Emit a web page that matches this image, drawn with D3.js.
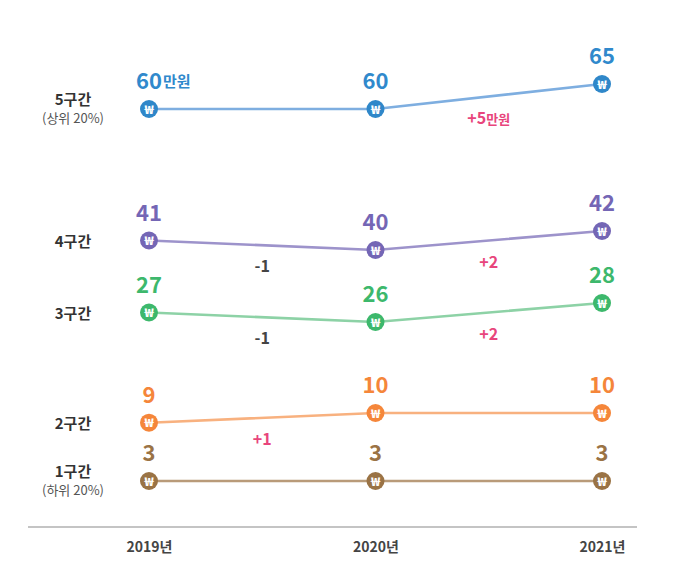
<!DOCTYPE html>
<html><head><meta charset="utf-8">
<script src="https://cdn.jsdelivr.net/npm/d3@7"></script>
<style>
body{margin:0;background:#fff;}
text{font-family:"Noto Sans CJK KR","Noto Sans",sans-serif;}
</style></head>
<body><svg id="c" width="673" height="586"></svg>
<script>
const years = ["2019년","2020년","2021년"];
const seriesNames = ["5구간","4구간","3구간","2구간","1구간"];
const seriesSub = ["(상위 20%)","","","","(하위 20%)"];
const v5 = [60,60,65];
const v4 = [41,40,42];
const v3 = [27,26,28];
const v2 = [9,10,10];
const v1 = [3,3,3];
const changes5 = ["","+5"];
const changes4 = ["-1","+2"];
const changes3 = ["-1","+2"];
const changes2 = ["+1",""];
const changes1 = ["",""];
const unit = "만원";
// broken value axis breakpoints
const yBreaks = [3,10,26,28,40,42,60,65];

const colors = [
 {dot:"#2f87c9",line:"#7eaee0",text:"#3089cc"},
 {dot:"#7466b5",line:"#9d93cb",text:"#7466b5"},
 {dot:"#3db86c",line:"#8dd2a6",text:"#3db86c"},
 {dot:"#f5863a",line:"#f8b17f",text:"#f5863a"},
 {dot:"#9a7345",line:"#b99b79",text:"#9a7345"}
];

const values = [v5,v4,v3,v2,v1];
const changes = [changes5,changes4,changes3,changes2,changes1];

const svg = d3.select("#c");
const x = d3.scalePoint().domain(years).range([149,602]);
const y = d3.scaleLinear().domain(yBreaks).range([481,413,322,303,250,231,109,84]);

// axis
const axisY = 527;
svg.append("line").attr("x1",28).attr("x2",637).attr("y1",axisY).attr("y2",axisY)
  .attr("stroke","#8a8a8a").attr("stroke-width",1.2);
const ax = svg.append("g").attr("transform",`translate(0,${axisY})`)
  .call(d3.axisBottom(x).tickSize(0).tickPadding(15));
ax.select(".domain").remove();
ax.selectAll("text").attr("font-size",14).attr("font-weight","bold").attr("fill","#444")
  .attr("font-family",'"Noto Sans CJK KR",sans-serif');

const line = d3.line().x((d,i)=>x(years[i])).y(d=>y(d));

values.forEach((vals,si)=>{
  const c = colors[si];
  const g = svg.append("g");
  g.append("path").datum(vals).attr("d",line).attr("fill","none")
    .attr("stroke",c.line).attr("stroke-width",2.6);
  // change labels
  changes[si].forEach((ch,i)=>{
    if(!ch) return;
    const mx = (x(years[i])+x(years[i+1]))/2;
    const my = (y(vals[i])+y(vals[i+1]))/2 + 27;
    const col = ch.startsWith("+") ? "#e8457c" : "#444";
    const t = g.append("text").attr("x",mx).attr("y",my).attr("text-anchor","middle")
      .attr("fill",col).attr("font-weight","bold").attr("font-size",16);
    t.append("tspan").text(ch);
    if(si===0) t.append("tspan").attr("font-size",13).text(unit);
  });
  // markers
  vals.forEach((v,i)=>{
    const cx = x(years[i]), cy = y(v);
    g.append("circle").attr("cx",cx).attr("cy",cy).attr("r",9).attr("fill",c.dot);
    g.append("text").attr("transform",`translate(${cx},${cy+4.5}) scale(1.2,0.9)`)
      .attr("text-anchor","middle").attr("font-family","'DejaVu Sans',sans-serif")
      .attr("fill","#fff").attr("font-size",13).attr("font-weight","bold").text("₩");
    g.append("text").attr("x",cx).attr("y",cy-20).attr("text-anchor","middle")
      .attr("fill",c.text).attr("font-size",22).attr("font-weight","bold").text(v);
    if(si===0 && i===0){
      g.append("text").attr("x",cx+14).attr("y",cy-22).attr("fill",c.text)
        .attr("font-size",15).attr("font-weight","bold").text(unit);
    }
  });
  // row labels
  const ly = y(vals[0]);
  const hasSub = seriesSub[si] !== "";
  g.append("text").attr("x",73).attr("y",hasSub ? ly-4 : ly+6).attr("text-anchor","middle")
    .attr("fill","#333").attr("font-size",15).attr("font-weight","bold").text(seriesNames[si]);
  if(hasSub){
    g.append("text").attr("x",73).attr("y",ly+14).attr("text-anchor","middle")
      .attr("fill","#555").attr("font-size",13).text(seriesSub[si]);
  }
});
</script></body></html>
